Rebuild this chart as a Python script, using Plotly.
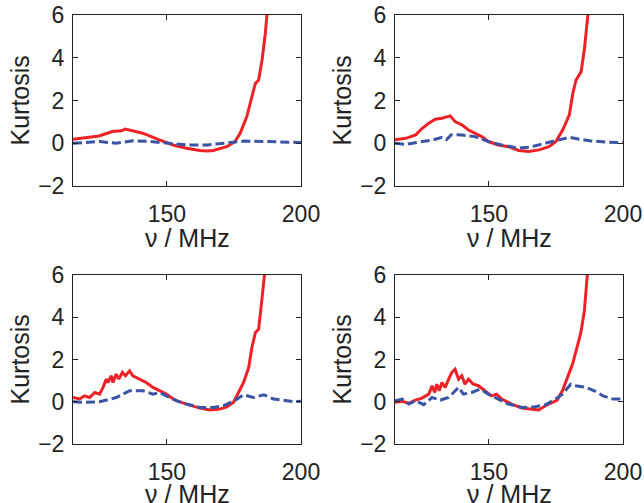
import plotly.graph_objects as go

# ---- data ----
x_ticks = [150, 200]
y_ticks = [-2, 0, 2, 4, 6]

p1_red_x = [115, 124.7, 129.7, 133, 134.5, 136, 141, 147.2, 152.3, 157.3, 162.3, 165, 167.3, 172.3, 175.4, 177.3, 179.8, 181.7, 183, 184.2, 185.5, 186.7, 187.3, 188]
p1_red_y = [0.19, 0.34, 0.55, 0.58, 0.66, 0.62, 0.47, 0.16, -0.08, -0.23, -0.34, -0.36, -0.34, -0.16, 0.08, 0.47, 1.25, 2.18, 2.8, 2.96, 3.9, 5.14, 6.0, 7.0]
p1_blue_x = [115, 125, 131, 137.5, 143.7, 150, 157.5, 165, 172.5, 178.8, 187.5, 200]
p1_blue_y = [0.0, 0.08, 0.0, 0.12, 0.08, 0.0, -0.08, -0.08, 0.03, 0.1, 0.08, 0.03]

p2_red_x = [115, 119, 122.7, 125.2, 127.6, 130, 132.5, 135.6, 137.4, 139.9, 142.4, 144.8, 147.3, 149.8, 153.5, 157.3, 161.1, 164.9, 168.7, 172.4, 175, 177.5, 180, 181.3, 182.5, 184.4, 185.7, 186.9, 188]
p2_red_y = [0.16, 0.23, 0.39, 0.7, 0.94, 1.12, 1.17, 1.28, 1.01, 0.86, 0.62, 0.47, 0.31, 0.08, -0.08, -0.16, -0.34, -0.39, -0.31, -0.16, 0.08, 0.62, 1.33, 2.34, 2.96, 3.35, 4.5, 6.0, 7.5]
p2_blue_x = [115, 119, 125.2, 129, 132.5, 134.2, 136, 139.9, 144.8, 149.8, 154.8, 161.1, 164.9, 168.7, 172.4, 176.2, 180, 183.7, 187.5, 193.8, 200]
p2_blue_y = [0.0, -0.05, 0.08, 0.15, 0.28, 0.17, 0.4, 0.39, 0.31, 0.08, -0.08, -0.23, -0.19, -0.08, 0.03, 0.16, 0.28, 0.19, 0.12, 0.05, 0.03]

p3_red_x = [115, 117.5, 119.3, 121.2, 123.1, 124.9, 126.2, 127.4, 128, 129.3, 129.9, 131.1, 132.1, 133.4, 134.6, 136.1, 137.3, 139.8, 142.3, 144.8, 147.3, 149.8, 151.6, 153.5, 157.3, 162.3, 166, 169.8, 172.3, 174.8, 176.7, 178.6, 180.5, 181.7, 183, 184.2, 185.5, 186.7, 188]
p3_red_y = [0.2, 0.13, 0.28, 0.2, 0.44, 0.36, 0.68, 1.07, 0.91, 1.23, 0.91, 1.31, 1.07, 1.39, 1.23, 1.46, 1.23, 1.07, 0.91, 0.68, 0.52, 0.36, 0.2, 0.05, -0.11, -0.3, -0.39, -0.35, -0.24, -0.03, 0.44, 0.91, 1.62, 2.57, 3.28, 3.43, 4.93, 6.0, 8.0]
p3_blue_x = [115, 118.7, 124.9, 131.1, 136.1, 141.1, 144.8, 147.3, 149.8, 153.5, 157.3, 162.3, 167.3, 171, 174.8, 178.6, 182.3, 186.1, 189.8, 193.6, 197.4, 199.9]
p3_blue_y = [0.0, -0.03, 0.0, 0.2, 0.52, 0.52, 0.36, 0.44, 0.28, 0.05, -0.11, -0.27, -0.27, -0.19, 0.02, 0.33, 0.2, 0.33, 0.13, 0.05, 0.0, 0.02]

p4_red_x = [115, 117.7, 120.2, 122.6, 125.1, 127.6, 128.8, 129.8, 130.6, 131.5, 132.5, 133.7, 135, 136.2, 137.4, 138.7, 139.9, 141.1, 142.4, 144.2, 146.1, 148.5, 151, 152.9, 154.8, 158.5, 162.3, 166.1, 168.6, 171.1, 173.6, 175.5, 177.4, 179.3, 181.2, 183, 184.3, 185.6, 186.8, 188]
p4_red_y = [-0.03, 0.02, -0.08, 0.08, 0.17, 0.36, 0.76, 0.44, 0.83, 0.52, 0.91, 0.68, 1.07, 1.39, 1.54, 1.07, 1.23, 0.83, 1.07, 0.83, 0.76, 0.52, 0.28, 0.36, 0.13, -0.11, -0.3, -0.35, -0.39, -0.19, -0.03, 0.08, 0.52, 1.15, 1.78, 2.65, 3.28, 4.3, 6.0, 8.0]
p4_blue_x = [115, 117.7, 120.2, 122.6, 125.7, 128.8, 131.9, 135, 138.7, 140.5, 143.6, 146.7, 149.8, 153.5, 157.3, 162.3, 167.3, 171.1, 174.9, 177.4, 180.5, 182.4, 186.2, 189.3, 192.5, 196.2, 200]
p4_blue_y = [0.05, 0.13, -0.11, 0.05, -0.14, 0.2, 0.08, 0.2, 0.68, 0.36, 0.44, 0.6, 0.36, 0.13, -0.11, -0.27, -0.24, -0.14, 0.13, 0.36, 0.83, 0.76, 0.68, 0.52, 0.28, 0.13, 0.13]

panels = [
    (p1_red_x, p1_red_y, p1_blue_x, p1_blue_y),
    (p2_red_x, p2_red_y, p2_blue_x, p2_blue_y),
    (p3_red_x, p3_red_y, p3_blue_x, p3_blue_y),
    (p4_red_x, p4_red_y, p4_blue_x, p4_blue_y),
]

RED = "#ee2226"
BLUE = "#3a55a5"
INK = "#222222"
FONT = "Liberation Sans, Arial, Helvetica, sans-serif"
W, H = 644, 503

# panel boxes in pixels: (left, right, top, bottom)
boxes = [(73, 301, 15, 186), (395, 623, 15, 186), (73, 301, 275, 444), (395, 623, 275, 444)]
title_gap = [52, 52, 50, 50]

fig = go.Figure()
layout = dict(
    width=W, height=H, margin=dict(l=0, r=0, t=0, b=0, autoexpand=False),
    paper_bgcolor="white", plot_bgcolor="white", showlegend=False,
    font=dict(family=FONT, size=23, color=INK),
)
annotations = []
for i, (rx, ry, bx, by) in enumerate(panels):
    n = "" if i == 0 else str(i + 1)
    fig.add_trace(go.Scatter(x=rx, y=ry, mode="lines", line=dict(color=RED, width=3),
                             xaxis="x" + n, yaxis="y" + n))
    fig.add_trace(go.Scatter(x=bx, y=by, mode="lines", line=dict(color=BLUE, width=3, dash="9px,4px"),
                             xaxis="x" + n, yaxis="y" + n))
    l, r, t, b = boxes[i]
    common = dict(showgrid=False, zeroline=False, showline=True, linecolor=INK, linewidth=1,
                  mirror="ticks", ticks="inside", ticklen=5, tickcolor=INK, automargin=False,
                  tickfont=dict(size=23, family=FONT, color=INK))
    layout["xaxis" + n] = dict(common, domain=[l / W, r / W], range=[115, 200], tickvals=x_ticks,
                               anchor="y" + n, ticklabelstandoff=7)
    layout["yaxis" + n] = dict(common, domain=[(H - b) / H, (H - t) / H], range=[-2, 6], tickvals=y_ticks,
                               anchor="x" + n, ticklabelstandoff=3)
    annotations.append(dict(text="Kurtosis", xref="paper", yref="paper", x=(l - 54) / W,
                            y=(H - (t + b) / 2) / H, xanchor="center", yanchor="middle",
                            textangle=-90, showarrow=False, font=dict(size=25, family=FONT, color=INK)))
    annotations.append(dict(text="ν / MHz", xref="paper", yref="paper", x=((l + r) / 2) / W,
                            y=(H - (b + title_gap[i])) / H, xanchor="center", yanchor="middle",
                            showarrow=False, font=dict(size=25, family=FONT, color=INK)))
layout["annotations"] = annotations
fig.update_layout(**layout)
fig.write_html("out.html")
